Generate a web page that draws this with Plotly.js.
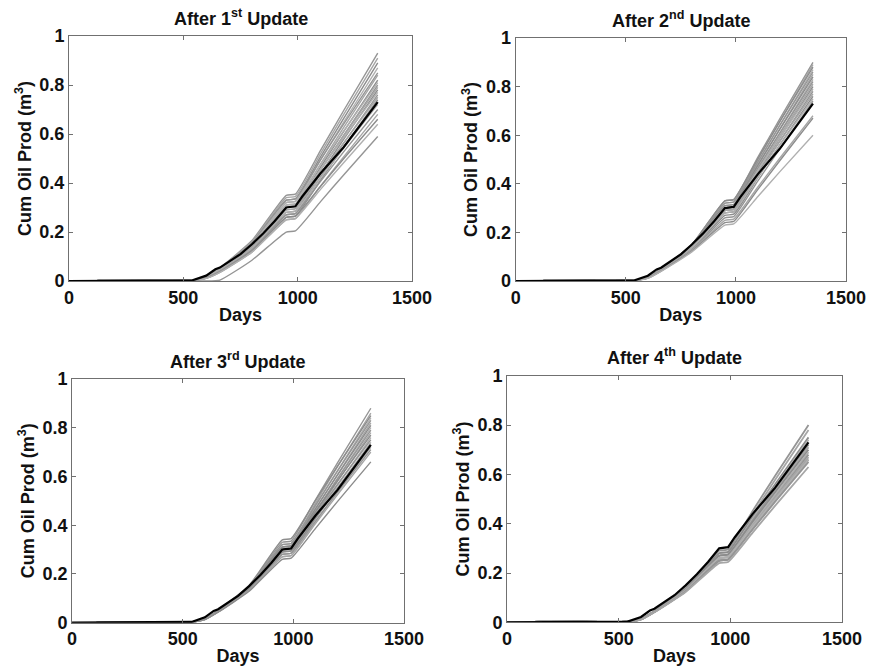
<!DOCTYPE html>
<html>
<head>
<meta charset="utf-8">
<script src="https://cdn.plot.ly/plotly-3.0.1.min.js"></script>
<style>html,body{margin:0;padding:0;background:#fff;}#chart{width:870px;height:672px;}</style>
</head>
<body>
<div id="chart"></div>
<script>
// ---- data ----
const panelTitles = ["After 1<sup>st</sup> Update", "After 2<sup>nd</sup> Update", "After 3<sup>rd</sup> Update", "After 4<sup>th</sup> Update"];
const xTickVals = [0, 500, 1000, 1500];
const yTickVals = [0, 0.2, 0.4, 0.6, 0.8, 1];
const yTickText = ["0", "0.2", "0.4", "0.6", "0.8", "1"];

const truthDays = [0, 100, 150, 540, 600, 640, 660, 700, 750, 800, 850, 900, 950, 990, 1020, 1100, 1200, 1350];
const truthProd = [0, 0, 0.003, 0.003, 0.022, 0.048, 0.055, 0.08, 0.11, 0.15, 0.195, 0.245, 0.30, 0.305, 0.345, 0.44, 0.545, 0.73];

const memberDays = [0, 100, 150, 540, 600, 660, 800, 950, 990, 1100, 1200, 1350];

const update1Members = [
  [0, 0, 0.003, 0.003, 0.020, 0.055, 0.165, 0.35, 0.355, 0.533, 0.694, 0.93],
  [0, 0, 0.003, 0.003, 0.020, 0.053, 0.160, 0.34, 0.345, 0.520, 0.678, 0.91],
  [0, 0, 0.003, 0.003, 0.019, 0.051, 0.155, 0.33, 0.335, 0.507, 0.662, 0.89],
  [0, 0, 0.003, 0.003, 0.018, 0.049, 0.150, 0.32, 0.325, 0.494, 0.647, 0.87],
  [0, 0, 0.003, 0.003, 0.019, 0.051, 0.155, 0.33, 0.335, 0.495, 0.639, 0.85],
  [0, 0, 0.003, 0.003, 0.017, 0.047, 0.146, 0.31, 0.315, 0.478, 0.625, 0.84],
  [0, 0, 0.003, 0.003, 0.016, 0.045, 0.141, 0.30, 0.305, 0.465, 0.609, 0.82],
  [0, 0, 0.003, 0.003, 0.018, 0.049, 0.150, 0.32, 0.325, 0.475, 0.611, 0.81],
  [0, 0, 0.003, 0.003, 0.015, 0.043, 0.136, 0.29, 0.295, 0.452, 0.593, 0.80],
  [0, 0, 0.003, 0.003, 0.016, 0.045, 0.141, 0.30, 0.305, 0.455, 0.591, 0.79],
  [0, 0, 0.003, 0.003, 0.014, 0.041, 0.132, 0.28, 0.285, 0.438, 0.577, 0.78],
  [0, 0, 0.003, 0.003, 0.017, 0.047, 0.146, 0.31, 0.315, 0.456, 0.583, 0.77],
  [0, 0, 0.003, 0.003, 0.013, 0.039, 0.127, 0.27, 0.275, 0.425, 0.561, 0.76],
  [0, 0, 0.003, 0.003, 0.015, 0.043, 0.136, 0.29, 0.295, 0.436, 0.563, 0.75],
  [0, 0, 0.003, 0.003, 0.012, 0.037, 0.122, 0.26, 0.265, 0.412, 0.545, 0.74],
  [0, 0, 0.003, 0.003, 0.014, 0.041, 0.132, 0.28, 0.285, 0.420, 0.542, 0.72],
  [0, 0, 0.003, 0.003, 0.013, 0.039, 0.127, 0.27, 0.275, 0.407, 0.526, 0.70],
  [0, 0, 0.003, 0.003, 0.011, 0.035, 0.118, 0.25, 0.255, 0.387, 0.506, 0.68],
  [0, 0, 0.003, 0.003, 0.012, 0.037, 0.122, 0.26, 0.265, 0.387, 0.498, 0.66],
  [0, 0, 0.003, 0.003, 0.011, 0.035, 0.118, 0.25, 0.255, 0.374, 0.482, 0.64],
  [0, 0, 0.001, 0.001, 0.000, 0.004, 0.085, 0.20, 0.205, 0.324, 0.432, 0.59]
];

const update2Members = [
  [0, 0, 0.003, 0.003, 0.016, 0.050, 0.150, 0.33, 0.335, 0.510, 0.668, 0.90],
  [0, 0, 0.003, 0.003, 0.016, 0.049, 0.147, 0.32, 0.325, 0.500, 0.658, 0.89],
  [0, 0, 0.003, 0.003, 0.016, 0.050, 0.150, 0.33, 0.335, 0.504, 0.657, 0.88],
  [0, 0, 0.003, 0.003, 0.015, 0.048, 0.144, 0.31, 0.315, 0.487, 0.642, 0.87],
  [0, 0, 0.003, 0.003, 0.016, 0.049, 0.147, 0.32, 0.325, 0.491, 0.641, 0.86],
  [0, 0, 0.003, 0.003, 0.015, 0.047, 0.141, 0.30, 0.305, 0.474, 0.627, 0.85],
  [0, 0, 0.003, 0.003, 0.015, 0.048, 0.144, 0.31, 0.315, 0.478, 0.625, 0.84],
  [0, 0, 0.003, 0.003, 0.014, 0.046, 0.138, 0.29, 0.295, 0.461, 0.611, 0.83],
  [0, 0, 0.003, 0.003, 0.015, 0.047, 0.141, 0.30, 0.305, 0.465, 0.609, 0.82],
  [0, 0, 0.003, 0.003, 0.014, 0.046, 0.138, 0.29, 0.295, 0.455, 0.599, 0.81],
  [0, 0, 0.003, 0.003, 0.014, 0.045, 0.135, 0.28, 0.285, 0.445, 0.589, 0.80],
  [0, 0, 0.003, 0.003, 0.015, 0.047, 0.141, 0.30, 0.305, 0.455, 0.591, 0.79],
  [0, 0, 0.003, 0.003, 0.014, 0.045, 0.135, 0.28, 0.285, 0.438, 0.577, 0.78],
  [0, 0, 0.003, 0.003, 0.014, 0.046, 0.138, 0.29, 0.295, 0.442, 0.575, 0.77],
  [0, 0, 0.003, 0.003, 0.013, 0.044, 0.132, 0.27, 0.275, 0.425, 0.561, 0.76],
  [0, 0, 0.003, 0.003, 0.014, 0.045, 0.135, 0.28, 0.285, 0.429, 0.559, 0.75],
  [0, 0, 0.003, 0.003, 0.013, 0.043, 0.129, 0.26, 0.265, 0.412, 0.545, 0.74],
  [0, 0, 0.003, 0.003, 0.012, 0.042, 0.126, 0.25, 0.255, 0.387, 0.506, 0.68],
  [0, 0, 0.003, 0.003, 0.012, 0.041, 0.123, 0.24, 0.245, 0.377, 0.496, 0.67],
  [0, 0, 0.003, 0.003, 0.011, 0.040, 0.120, 0.23, 0.235, 0.348, 0.450, 0.60]
];

const update3Members = [
  [0, 0, 0.003, 0.003, 0.016, 0.050, 0.150, 0.33, 0.335, 0.504, 0.657, 0.88],
  [0, 0, 0.003, 0.003, 0.016, 0.049, 0.147, 0.32, 0.325, 0.491, 0.641, 0.86],
  [0, 0, 0.003, 0.003, 0.017, 0.051, 0.153, 0.34, 0.345, 0.502, 0.643, 0.85],
  [0, 0, 0.003, 0.003, 0.015, 0.048, 0.144, 0.31, 0.315, 0.478, 0.625, 0.84],
  [0, 0, 0.003, 0.003, 0.016, 0.049, 0.147, 0.32, 0.325, 0.482, 0.623, 0.83],
  [0, 0, 0.003, 0.003, 0.015, 0.047, 0.141, 0.30, 0.305, 0.465, 0.609, 0.82],
  [0, 0, 0.003, 0.003, 0.015, 0.048, 0.144, 0.31, 0.315, 0.468, 0.607, 0.81],
  [0, 0, 0.003, 0.003, 0.014, 0.046, 0.138, 0.29, 0.295, 0.452, 0.593, 0.80],
  [0, 0, 0.003, 0.003, 0.015, 0.047, 0.141, 0.30, 0.305, 0.455, 0.591, 0.79],
  [0, 0, 0.003, 0.003, 0.014, 0.046, 0.138, 0.29, 0.295, 0.445, 0.581, 0.78],
  [0, 0, 0.003, 0.003, 0.015, 0.048, 0.144, 0.31, 0.315, 0.456, 0.583, 0.77],
  [0, 0, 0.003, 0.003, 0.014, 0.045, 0.135, 0.28, 0.285, 0.432, 0.565, 0.76],
  [0, 0, 0.003, 0.003, 0.015, 0.047, 0.141, 0.30, 0.305, 0.443, 0.568, 0.75],
  [0, 0, 0.003, 0.003, 0.014, 0.045, 0.135, 0.28, 0.285, 0.426, 0.553, 0.74],
  [0, 0, 0.003, 0.003, 0.014, 0.046, 0.138, 0.29, 0.295, 0.430, 0.552, 0.73],
  [0, 0, 0.003, 0.003, 0.013, 0.044, 0.132, 0.27, 0.275, 0.413, 0.538, 0.72],
  [0, 0, 0.003, 0.003, 0.014, 0.045, 0.135, 0.28, 0.285, 0.417, 0.536, 0.71],
  [0, 0, 0.003, 0.003, 0.013, 0.044, 0.132, 0.27, 0.275, 0.407, 0.526, 0.70],
  [0, 0, 0.003, 0.003, 0.013, 0.043, 0.129, 0.26, 0.265, 0.387, 0.498, 0.66]
];

const update4Members = [
  [0, 0, 0.003, 0.003, 0.014, 0.046, 0.138, 0.29, 0.295, 0.452, 0.593, 0.80],
  [0, 0, 0.003, 0.003, 0.014, 0.045, 0.135, 0.28, 0.285, 0.438, 0.577, 0.78],
  [0, 0, 0.003, 0.003, 0.014, 0.045, 0.135, 0.28, 0.285, 0.429, 0.559, 0.75],
  [0, 0, 0.003, 0.003, 0.013, 0.044, 0.132, 0.27, 0.275, 0.419, 0.549, 0.74],
  [0, 0, 0.003, 0.003, 0.013, 0.044, 0.132, 0.27, 0.275, 0.413, 0.538, 0.72],
  [0, 0, 0.003, 0.003, 0.013, 0.043, 0.129, 0.26, 0.265, 0.403, 0.528, 0.71],
  [0, 0, 0.003, 0.003, 0.013, 0.044, 0.132, 0.27, 0.275, 0.407, 0.526, 0.70],
  [0, 0, 0.003, 0.003, 0.013, 0.043, 0.129, 0.26, 0.265, 0.397, 0.516, 0.69],
  [0, 0, 0.003, 0.003, 0.012, 0.042, 0.126, 0.25, 0.255, 0.387, 0.506, 0.68],
  [0, 0, 0.003, 0.003, 0.013, 0.043, 0.129, 0.26, 0.265, 0.391, 0.504, 0.67],
  [0, 0, 0.003, 0.003, 0.012, 0.042, 0.126, 0.25, 0.255, 0.381, 0.494, 0.66],
  [0, 0, 0.003, 0.003, 0.013, 0.043, 0.129, 0.26, 0.265, 0.387, 0.498, 0.66],
  [0, 0, 0.003, 0.003, 0.012, 0.042, 0.126, 0.25, 0.255, 0.377, 0.488, 0.65],
  [0, 0, 0.003, 0.003, 0.012, 0.041, 0.123, 0.24, 0.245, 0.364, 0.472, 0.63]
];

const panelMembers = [update1Members, update2Members, update3Members, update4Members];

// ---- layout geometry (fractions of the 870x672 page) ----
const xDomains = [[0.0793, 0.4736], [0.5928, 0.9724], [0.0828, 0.4644], [0.5828, 0.9678]];
const yDomains = [[0.5818, 0.9464], [0.5818, 0.9435], [0.0734, 0.4360], [0.0739, 0.4409]];
const memberColors = ["#959595", "#a6a6a6", "#8c8c8c", "#b0b0b0"];

const FONT = "Liberation Sans, Arial, sans-serif";
const traces = [];
const layout = {
  width: 870, height: 672,
  margin: {l: 0, r: 0, t: 0, b: 0},
  paper_bgcolor: "#ffffff", plot_bgcolor: "#ffffff",
  showlegend: false,
  font: {family: FONT, color: "#111", weight: "bold"},
  annotations: []
};

for (let p = 0; p < 4; p++) {
  const sfx = p === 0 ? "" : String(p + 1);
  const xa = "x" + sfx, ya = "y" + sfx;
  panelMembers[p].forEach((m, i) => {
    traces.push({
      x: memberDays, y: m, xaxis: xa, yaxis: ya, mode: "lines", type: "scatter",
      line: {color: memberColors[i % memberColors.length], width: p === 3 ? 1.8 : 1.4, shape: "spline", smoothing: 0.5},
      hoverinfo: "skip"
    });
  });
  traces.push({
    x: truthDays, y: truthProd, xaxis: xa, yaxis: ya, mode: "lines", type: "scatter",
    line: {color: "#000000", width: 2.2}, hoverinfo: "skip"
  });
  layout["xaxis" + sfx] = {
    domain: xDomains[p], anchor: ya, range: [0, 1500],
    tickvals: xTickVals, ticktext: xTickVals.map(String),
    ticks: "inside", ticklen: 4, tickcolor: "#707070", tickwidth: 1,
    showline: true, linecolor: "#707070", linewidth: 1, mirror: "ticks",
    showgrid: false, zeroline: false, fixedrange: true,
    tickfont: {family: FONT, size: 18, color: "#111", weight: "bold"},
    title: {text: "Days", font: {family: FONT, size: 18, color: "#111", weight: "bold"}, standoff: 1}
  };
  layout["yaxis" + sfx] = {
    domain: yDomains[p], anchor: xa, range: [0, 1],
    tickvals: yTickVals, ticktext: yTickText,
    ticks: "inside", ticklen: 4, tickcolor: "#707070", tickwidth: 1,
    showline: true, linecolor: "#707070", linewidth: 1, mirror: "ticks",
    showgrid: false, zeroline: false, fixedrange: true,
    tickfont: {family: FONT, size: 18, color: "#111", weight: "bold"},
    title: {text: "Cum Oil Prod (m<sup>3</sup>)", font: {family: FONT, size: 18, color: "#111", weight: "bold"}, standoff: 3}
  };
  layout.annotations.push({
    text: panelTitles[p], xref: "paper", yref: "paper",
    x: (xDomains[p][0] + xDomains[p][1]) / 2, y: yDomains[p][1] + 0.008,
    xanchor: "center", yanchor: "bottom", showarrow: false,
    font: {family: FONT, size: 18, color: "#111", weight: "bold"}
  });
}

Plotly.newPlot("chart", traces, layout, {displayModeBar: false, staticPlot: true});
</script>
</body>
</html>
